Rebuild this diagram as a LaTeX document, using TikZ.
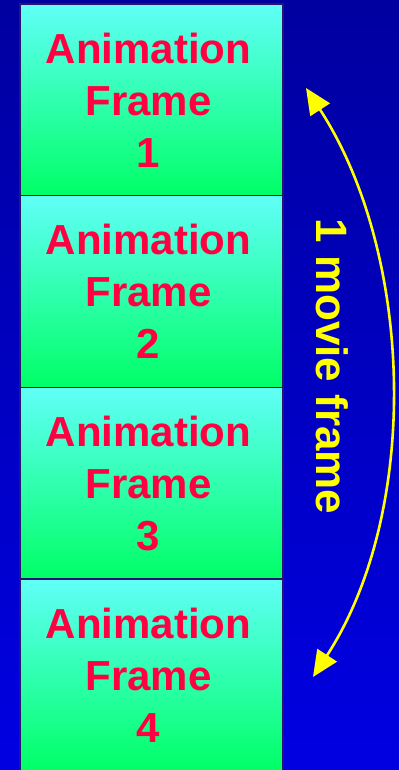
\documentclass[tikz,border=0pt]{standalone}
\usepackage{fontspec}
\setmainfont{Liberation Sans}
\usetikzlibrary{arrows.meta}
\definecolor{bgtop}{RGB}{0,0,160}
\definecolor{bgbot}{RGB}{0,0,226}
\definecolor{celltop}{RGB}{96,255,248}
\definecolor{cellbot}{RGB}{0,255,102}
\definecolor{cellline}{RGB}{40,20,110}
\definecolor{framered}{RGB}{255,0,64}
\definecolor{arrowyellow}{RGB}{255,255,0}
\tikzset{animcell/.style={rectangle, draw=cellline, line width=1.2pt, top color=celltop, bottom color=cellbot, minimum width=263pt, minimum height=191.7pt, inner sep=0pt, align=center, text=framered, font=\fontsize{42}{52}\selectfont\bfseries}}

\begin{document}
\begin{tikzpicture}[x=1pt,y=1pt]
\useasboundingbox (0,0) rectangle (399,770);
\shade[top color=bgtop, bottom color=bgbot] (0,0) rectangle (399,770);
\node[animcell] (frame1) at (151.5,670.15) {\hspace*{-6pt}Animation\\\hspace*{-6pt}Frame\\\hspace*{-6pt}1};
\node[animcell] (frame2) at (151.5,478.45) {\hspace*{-6pt}Animation\\\hspace*{-6pt}Frame\\\hspace*{-6pt}2};
\node[animcell] (frame3) at (151.5,286.75) {\hspace*{-6pt}Animation\\\hspace*{-6pt}Frame\\\hspace*{-6pt}3};
\node[animcell] (frame4) at (151.5,95.05) {\hspace*{-6pt}Animation\\\hspace*{-6pt}Frame\\\hspace*{-6pt}4};
\coordinate (uptip) at (306,682);
\coordinate (downtip) at (313,93);
\draw[arrowyellow, line width=2.6pt, {Triangle[length=26pt,width=23pt]}-{Triangle[length=26pt,width=23pt]}] (uptip) to[out=-57,in=57,looseness=0.86] (downtip);
\node[text=arrowyellow, font=\fontsize{44}{52}\selectfont\bfseries, rotate=-90] (movielabel) at (332.5,403.5) {1 movie frame};
\end{tikzpicture}
\end{document}
